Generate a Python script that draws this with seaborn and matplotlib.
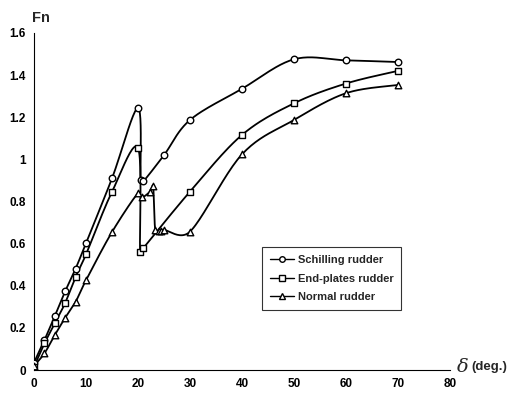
import numpy as np
import pandas as pd
import matplotlib
matplotlib.use("Agg")
import matplotlib.pyplot as plt
from matplotlib.lines import Line2D
import seaborn as sns

# Rudder angle (deg.) and normal force coefficient Fn for each rudder type
schilling_angle = [0, 2, 4, 6, 8, 10, 15, 20, 20.5, 21, 25, 30, 40, 50, 60, 70]
schilling_fn = [0.035, 0.142, 0.256, 0.374, 0.481, 0.603, 0.91, 1.244, 0.9, 0.895,
                1.02, 1.187, 1.335, 1.475, 1.47, 1.462]

endplate_angle = [0, 2, 4, 6, 8, 10, 15, 20, 20.4, 21, 30, 40, 50, 60, 70]
endplate_fn = [0.016, 0.126, 0.221, 0.319, 0.442, 0.549, 0.846, 1.054, 0.562,
               0.578, 0.847, 1.116, 1.266, 1.36, 1.42]

normal_angle = [0, 2, 4, 6, 8, 10, 15, 20, 20.8, 22.3, 22.9, 23.3, 24, 24.5, 25,
                30, 40, 50, 60, 70]
normal_fn = [0.02, 0.079, 0.166, 0.248, 0.324, 0.426, 0.655, 0.84, 0.82, 0.847,
             0.874, 0.665, 0.66, 0.662, 0.665, 0.657, 1.024, 1.187, 1.314, 1.353]

series_names = ["Schilling rudder", "End-plates rudder", "Normal rudder"]
series_markers = ["o", "s", "^"]

x_ticks = [0, 10, 20, 30, 40, 50, 60, 70, 80]
y_ticks = [0, 0.2, 0.4, 0.6, 0.8, 1.0, 1.2, 1.4, 1.6]
y_tick_labels = ["0", "0.2", "0.4", "0.6", "0.8", "1", "1.2", "1.4", "1.6"]

# rough pixel size of one data unit, so the smoothing works in screen space
X_SCALE, Y_SCALE = 5.2, 210.6


def smooth_curve(x, y, steps=24):
    """Catmull-Rom style Bezier smoothing, with control arms clamped on short segments."""
    p = np.column_stack([np.asarray(x, float) * X_SCALE,
                         np.asarray(y, float) * Y_SCALE])
    n = len(p)
    seglen = np.linalg.norm(np.diff(p, axis=0), axis=1)

    def tangent(i):
        if i == 0:
            return p[1] - p[0]
        if i == n - 1:
            return p[-1] - p[-2]
        return p[i + 1] - p[i - 1]

    out = [p[0]]
    t = np.linspace(0, 1, steps)[1:, None]
    for i in range(n - 1):
        ta = tangent(i)
        tb = tangent(i + 1)
        fa = min(1 / 6, 0.5 * seglen[i] / max(np.linalg.norm(ta), 1e-9))
        fb = min(1 / 6, 0.5 * seglen[i] / max(np.linalg.norm(tb), 1e-9))
        c1 = p[i] + ta * fa
        c2 = p[i + 1] - tb * fb
        seg = ((1 - t) ** 3) * p[i] + 3 * ((1 - t) ** 2) * t * c1 \
            + 3 * (1 - t) * t ** 2 * c2 + t ** 3 * p[i + 1]
        out.extend(seg)
    out = np.array(out)
    return out[:, 0] / X_SCALE, out[:, 1] / Y_SCALE


sns.set_style("white")
plt.rcParams["font.family"] = ["Liberation Sans", "DejaVu Sans"]

fig = plt.figure(figsize=(5.10, 3.97), dpi=100)
ax = fig.add_axes([0.0667, 0.068, 0.8157, 0.849])

data = [(schilling_angle, schilling_fn), (endplate_angle, endplate_fn),
        (normal_angle, normal_fn)]

for (xs, ys), name, mk in zip(data, series_names, series_markers):
    sx, sy = smooth_curve(xs, ys)
    curve = pd.DataFrame({"angle": sx, "fn": sy})
    sns.lineplot(data=curve, x="angle", y="fn", ax=ax, sort=False, estimator=None,
                 color="black", linewidth=1.3, zorder=2)
    pts = pd.DataFrame({"angle": xs, "fn": ys})
    sns.scatterplot(data=pts, x="angle", y="fn", ax=ax, marker=mk, s=22,
                    facecolor="white", edgecolor="black", linewidth=1.0, zorder=3)

ax.set_xlim(0, 80)
ax.set_ylim(0, 1.6)
ax.set_xticks(x_ticks)
ax.set_xticklabels([str(v) for v in x_ticks], fontweight="bold", fontsize=8.5)
ax.set_yticks(y_ticks)
ax.set_yticklabels(y_tick_labels, fontweight="bold", fontsize=8.5)
ax.tick_params(direction="in", length=3, width=0.8, colors="black", pad=6)
ax.set_xlabel("")
ax.set_ylabel("")

for side in ["top", "right"]:
    ax.spines[side].set_visible(False)
for side in ["left", "bottom"]:
    ax.spines[side].set_color("black")
    ax.spines[side].set_linewidth(0.8)

fig.text(0.063, 0.955, "Fn", fontsize=10.5, fontweight="bold", ha="left", va="center")
fig.text(0.895, 0.075, "\u03b4", fontsize=14, ha="left", va="center",
         family="DejaVu Serif", style="italic")
fig.text(0.925, 0.075, "(deg.)", fontsize=9.5, fontweight="bold", ha="left", va="center")

handles = [Line2D([0], [0], color="black", linewidth=1.0, marker=mk, markersize=4,
                  markerfacecolor="white", markeredgecolor="black")
           for mk in series_markers]
leg = ax.legend(handles, series_names, loc="upper left",
                bbox_to_anchor=(0.535, 0.38), frameon=True, fancybox=False,
                fontsize=8, handlelength=2.2, handletextpad=0.3,
                labelspacing=0.75, borderpad=0.7)
leg.get_frame().set_edgecolor("black")
leg.get_frame().set_linewidth(0.8)
for txt in leg.get_texts():
    txt.set_fontweight("bold")

fig.savefig("out.png", dpi=100)
